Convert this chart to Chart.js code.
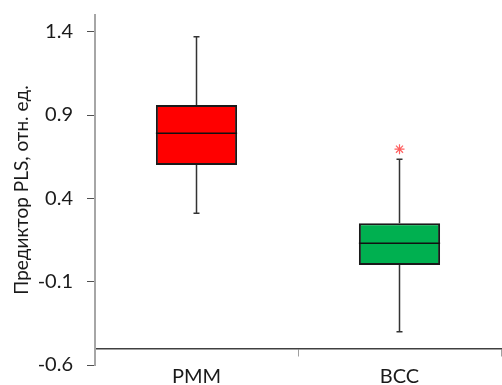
<!DOCTYPE html>
<html>
<head>
<meta charset="utf-8">
<script src="https://cdn.jsdelivr.net/npm/chart.js@4"></script>
<style>
  body { margin: 0; background: #fff; }
</style>
</head>
<body>
<canvas id="grafik" width="502" height="385"></canvas>
<script>
// данные
const kategori = ['РММ', 'ВСС'];
const usMin = [0.31, -0.40];     // нижний ус
const kvartil1 = [0.60, 0.00];
const mediana = [0.79, 0.13];
const kvartil3 = [0.96, 0.25];
const usMax = [1.37, 0.635];     // верхний ус
const vybrosy = [null, 0.695];   // выброс (звёздочка)
const yTicks = [-0.6, -0.1, 0.4, 0.9, 1.4];
const warnaBox = ['#ff0000', '#00b050'];

const shrift = 'Lato, "DejaVu Sans", sans-serif';

// усы и медиана рисуются через шкалы графика
const usyPlugin = {
  id: 'usy',
  beforeDatasetsDraw(chart) {
    const { ctx, scales: { x, y } } = chart;
    ctx.save();
    ctx.strokeStyle = '#333';
    ctx.lineWidth = 1.5;
    kategori.forEach((k, i) => {
      const px = x.getPixelForValue(i);
      const pairs = [[kvartil3[i], usMax[i]], [kvartil1[i], usMin[i]]];
      pairs.forEach(([from, to]) => {
        ctx.beginPath();
        ctx.moveTo(px, y.getPixelForValue(from));
        ctx.lineTo(px, y.getPixelForValue(to));
        ctx.moveTo(px - 3, y.getPixelForValue(to));
        ctx.lineTo(px + 3, y.getPixelForValue(to));
        ctx.stroke();
      });
    });
    ctx.restore();
  },
  afterDatasetsDraw(chart) {
    const { ctx, scales: { y } } = chart;
    const meta = chart.getDatasetMeta(0);
    ctx.save();
    ctx.strokeStyle = '#111';
    ctx.lineWidth = 1.5;
    kategori.forEach((k, i) => {
      const bar = meta.data[i];
      const py = y.getPixelForValue(mediana[i]);
      ctx.beginPath();
      ctx.moveTo(bar.x - bar.width / 2, py);
      ctx.lineTo(bar.x + bar.width / 2, py);
      ctx.stroke();
    });
    ctx.restore();
  }
};

new Chart(document.getElementById('grafik'), {
  type: 'bar',
  data: {
    labels: kategori,
    datasets: [
      {
        data: kategori.map((k, i) => [kvartil1[i], kvartil3[i]]),
        backgroundColor: warnaBox,
        borderColor: '#1a1a1a',
        borderWidth: 2,
        borderSkipped: false,
        categoryPercentage: 1,
        barPercentage: 0.4
      },
      {
        type: 'line',
        data: vybrosy,
        showLine: false,
        pointStyle: 'star',
        pointRadius: 5,
        borderColor: '#ff6060',
        borderWidth: 1.2
      }
    ]
  },
  options: {
    responsive: false,
    animation: false,
    layout: { autoPadding: false, padding: { left: 0, right: 1, top: 15, bottom: 20 } },
    plugins: { legend: { display: false }, tooltip: { enabled: false } },
    scales: {
      x: {
        position: { y: -0.5 },
        offset: true,
        afterFit: s => { s.height = 0; s.paddingLeft = 0; s.paddingRight = 0; },
        border: { color: '#404040', width: 1.5 },
        grid: { drawOnChartArea: false, offset: true, tickLength: 7, color: '#a0a0a0' },
        ticks: { color: '#1a1a1a', padding: 9, font: { family: shrift, size: 20 } }
      },
      y: {
        min: -0.6,
        max: 1.5,
        afterFit: s => { s.width = 95; s.paddingTop = 0; s.paddingBottom = 0; },
        afterBuildTicks: s => { s.ticks = yTicks.map(v => ({ value: v })); },
        border: { color: '#a6a6a6', width: 2 },
        grid: { drawOnChartArea: false, tickLength: 8, color: '#505050' },
        ticks: {
          color: '#1a1a1a',
          padding: 14,
          font: { family: shrift, size: 20 },
          callback: v => v.toFixed(1)
        },
        title: {
          display: true,
          text: 'Предиктор PLS, отн. ед.',
          color: '#1a1a1a',
          padding: { top: 10, bottom: 0 },
          font: { family: shrift, size: 19 }
        }
      }
    }
  },
  plugins: [usyPlugin]
});
</script>
</body>
</html>
